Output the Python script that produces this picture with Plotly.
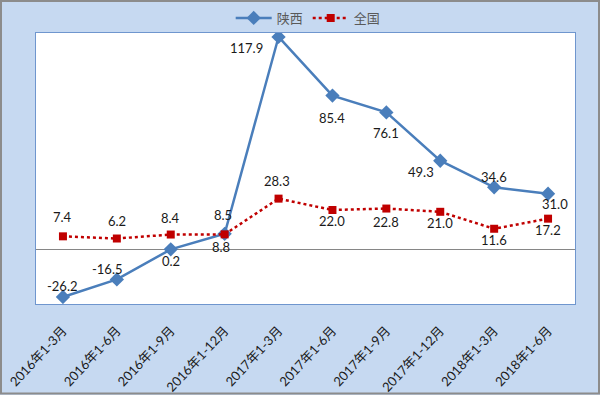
import plotly.graph_objects as go

categories = ["2016年1-3月", "2016年1-6月", "2016年1-9月", "2016年1-12月",
              "2017年1-3月", "2017年1-6月", "2017年1-9月", "2017年1-12月",
              "2018年1-3月", "2018年1-6月"]
shaanxi = [-26.2, -16.5, 0.2, 8.8, 117.9, 85.4, 76.1, 49.3, 34.6, 31.0]
national = [7.4, 6.2, 8.4, 8.5, 28.3, 22.0, 22.8, 21.0, 11.6, 17.2]

# label pixel offsets (style only)
sx_off = [(0, 11), (-9, 10), (0, -12), (-4, -13), (-32, -11), (0, -22), (0, -21), (-19, -11), (0, 10), (7, -10)]
nat_off = [(0, 19), (0, 18), (0, 17), (-2, 19), (-2, 18), (0, -11), (0, -13), (0, -11), (0, -11), (0, -11)]

BLUE = "#4A7EBB"
RED = "#C00000"

fig = go.Figure()
fig.add_trace(go.Scatter(
    x=categories, y=shaanxi, name="陕西", mode="lines+markers",
    line=dict(color=BLUE, width=2.5),
    marker=dict(symbol="diamond", size=11, color=BLUE),
))
fig.add_trace(go.Scatter(
    x=categories, y=national, name="全国", mode="lines+markers",
    line=dict(color=RED, width=2.5, dash="dot"),
    marker=dict(symbol="square", size=8, color=RED),
))

lab_font = dict(family="Lato, Carlito, Liberation Sans, sans-serif", size=13, color="#1a1a1a")
for c, v, (dx, dy) in zip(categories, shaanxi, sx_off):
    fig.add_annotation(x=c, y=v, text=f"{v:.1f}", showarrow=False,
                       xshift=dx, yshift=dy, font=lab_font)
for c, v, (dx, dy) in zip(categories, national, nat_off):
    fig.add_annotation(x=c, y=v, text=f"{v:.1f}", showarrow=False,
                       xshift=dx, yshift=dy, font=lab_font)

# outer border of the chart
fig.add_shape(type="rect", xref="paper", yref="paper",
              x0=-35/539, x1=563/539, y0=-89.5/271, y1=303/271,
              line=dict(color="#8C8C8C", width=2), fillcolor="rgba(0,0,0,0)", layer="below")

fig.update_layout(
    width=600, height=395,
    margin=dict(l=36, r=25, t=33, b=91, autoexpand=False),
    paper_bgcolor="#C6D9F1",
    plot_bgcolor="#FFFFFF",
    showlegend=True,
    legend=dict(orientation="h", x=0.505, xanchor="center", y=1.0, yanchor="bottom",
                font=dict(family="Noto Sans CJK SC", size=13, color="#595959"),
                bgcolor="rgba(0,0,0,0)", itemwidth=36, tracegroupgap=0),
    xaxis=dict(type="category", range=[-0.5, 9.5], showgrid=False, zeroline=False,
               showline=True, mirror=True, linecolor="#6F96CE", linewidth=1,
               tickangle=-47, ticks="", ticklabelstandoff=13, automargin=False,
               tickfont=dict(family="Lato, Noto Sans CJK SC", size=13, color="#1a1a1a")),
    yaxis=dict(range=[-30.1, 120.1], showgrid=False, showticklabels=False, ticks="",
               zeroline=True, zerolinecolor="#868686", zerolinewidth=1, automargin=False,
               showline=True, mirror=True, linecolor="#6F96CE", linewidth=1),
)

fig.write_html("out.html", config={"displayModeBar": False},
               post_script="document.body.style.margin='0';document.body.style.padding='0';")
